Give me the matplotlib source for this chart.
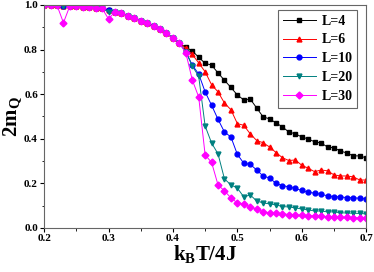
import numpy as np
import matplotlib
matplotlib.use('Agg')
from matplotlib import pyplot as plt

plt.rcParams['font.family'] = 'Liberation Serif'
plt.rcParams['font.weight'] = 'bold'
plt.rcParams['mathtext.fontset'] = 'custom'
plt.rcParams['mathtext.rm'] = 'Liberation Serif:bold'
plt.rcParams['mathtext.bf'] = 'Liberation Serif:bold'
plt.rcParams['mathtext.it'] = 'Liberation Serif:bold'

T = np.round(np.arange(0.20, 0.705, 0.01), 2)

# common low temperature part (0.20 .. 0.41)
base = [1.000, 0.999, 0.998, 0.997, 0.996, 0.994, 0.992, 0.990, 0.988, 0.984,
        0.978, 0.969, 0.962, 0.952, 0.940, 0.930, 0.918, 0.905, 0.890, 0.872,
        0.852, 0.828]

m4 = base + [0.810, 0.794, 0.765, 0.738, 0.730, 0.695, 0.662, 0.630, 0.596, 0.574,
             0.578, 0.538, 0.498, 0.489, 0.471, 0.453, 0.430, 0.422, 0.408, 0.399,
             0.386, 0.381, 0.363, 0.359, 0.345, 0.336, 0.323, 0.323, 0.314]
m6 = base + [0.805, 0.778, 0.740, 0.700, 0.642, 0.610, 0.560, 0.530, 0.468, 0.460,
             0.422, 0.392, 0.382, 0.363, 0.338, 0.315, 0.302, 0.305, 0.281, 0.268,
             0.252, 0.260, 0.256, 0.238, 0.233, 0.233, 0.229, 0.215, 0.215]
m10 = base + [0.790, 0.730, 0.690, 0.610, 0.550, 0.487, 0.430, 0.408, 0.330, 0.290,
              0.285, 0.260, 0.233, 0.224, 0.200, 0.190, 0.184, 0.177, 0.168, 0.160,
              0.156, 0.151, 0.144, 0.140, 0.139, 0.136, 0.135, 0.133, 0.130]
m20 = base + [0.790, 0.726, 0.680, 0.457, 0.381, 0.332, 0.220, 0.193, 0.179, 0.139,
              0.148, 0.121, 0.112, 0.108, 0.103, 0.096, 0.094, 0.090, 0.085, 0.081,
              0.076, 0.076, 0.072, 0.072, 0.068, 0.067, 0.066, 0.065, 0.063]
m30 = base + [0.785, 0.664, 0.587, 0.327, 0.294, 0.193, 0.166, 0.135, 0.112, 0.108,
              0.094, 0.085, 0.072, 0.068, 0.065, 0.063, 0.060, 0.058, 0.056, 0.055,
              0.053, 0.052, 0.050, 0.049, 0.048, 0.047, 0.046, 0.045, 0.044]
m30 = list(m30)
m30[3] = 0.920   # glitch at 0.23
m30[10] = 0.937  # glitch at 0.30
m20 = list(m20)
m20[10] = 0.969

series = [('L=4', m4, 'black', 's'),
          ('L=6', m6, 'red', '^'),
          ('L=10', m10, 'blue', 'o'),
          ('L=20', m20, '#008080', 'v'),
          ('L=30', m30, 'magenta', 'D')]

fig = plt.figure(figsize=(3.74, 2.72), dpi=100)
ax = fig.add_axes([0.118, 0.162, 0.861, 0.820])

for lab, m, c, mk in series:
    ax.plot(T, m, color=c, marker=mk, ms=3.5, lw=0.7, label=lab)

ax.set_xlim(0.2, 0.7)
ax.set_ylim(0.0, 1.0)
ax.set_xticks([0.2, 0.3, 0.4, 0.5, 0.6, 0.7])
ax.set_xticks(np.arange(0.25, 0.7, 0.1), minor=True)
ax.set_yticks([0.0, 0.2, 0.4, 0.6, 0.8, 1.0])
ax.set_yticks([0.1, 0.3, 0.5, 0.7, 0.9], minor=True)
ax.tick_params(which='major', length=3, width=0.8, labelsize=8, pad=1.5)
ax.tick_params(which='minor', length=1.8, width=0.6)
for s in ax.spines.values():
    s.set_color('#666666')
    s.set_linewidth(0.8)

ax.set_xlabel(r'$\mathbf{k_BT/4J}$', fontsize=15, labelpad=0)
ax.set_ylabel(r'$\mathbf{2m_Q}$', fontsize=15, labelpad=1)

leg = ax.legend(loc='upper right', fontsize=10, fancybox=False, framealpha=1,
                edgecolor='#666666', handlelength=2.4, handletextpad=0.4,
                labelspacing=0.42, borderpad=0.35, borderaxespad=0,
                bbox_to_anchor=(0.973, 0.978))
leg.get_frame().set_linewidth(0.8)

fig.savefig('out.png', dpi=100)
